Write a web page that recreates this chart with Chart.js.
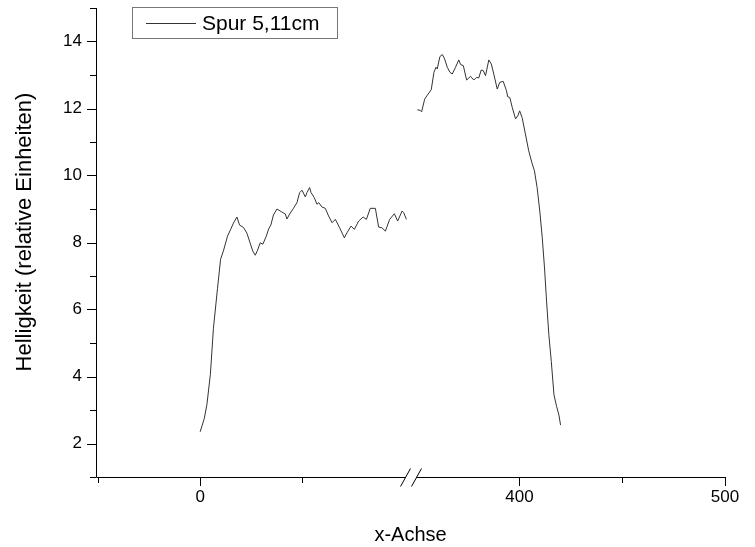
<!DOCTYPE html>
<html>
<head>
<meta charset="utf-8">
<script src="https://cdn.jsdelivr.net/npm/chart.js@4.4.1/dist/chart.umd.min.js"></script>
<style>
    body { margin: 0; background: #fff; }
</style>
</head>
<body>
<canvas id="helligkeitChart" width="755" height="547"></canvas>
<script>
// values, left of the axis break
var leftX = [0, 2, 3.3, 5, 6.5, 8.5, 10, 11.4, 13.4, 15, 16.3, 18, 19.3, 21.2, 22.9, 24.5, 25.8, 27, 28.1, 29.4,
    30.7, 32.4, 33.5, 34.6, 35.9, 37.6, 40, 41.7, 42.5, 43.8, 45.7, 47.4, 48.7, 49.9, 51.5, 52.3, 53.6, 54.3, 55.9,
    57.2, 58.1, 59.6, 61.3, 62.9, 64.6, 66.2, 68.3, 70.6, 71.9, 73.9, 75.5, 77.6, 79.8, 81.4, 83.3, 85.8, 87.4, 89,
    90.7, 92.8, 95.1, 96.7, 98.9, 99.7, 101];
var leftY = [2.35, 2.74, 3.16, 4.06, 5.44, 6.63, 7.5, 7.75, 8.19, 8.4, 8.58, 8.76, 8.52, 8.45, 8.28, 7.98, 7.74, 7.62, 7.77, 7.99,
    7.95, 8.19, 8.4, 8.52, 8.82, 9.0, 8.91, 8.85, 8.7, 8.85, 9.02, 9.19, 9.49, 9.56, 9.36, 9.49, 9.64, 9.49, 9.34,
    9.14, 9.19, 9.06, 9.02, 8.79, 8.59, 8.69, 8.44, 8.14, 8.29, 8.49, 8.39, 8.64, 8.76, 8.69, 9.02, 9.02, 8.46, 8.44,
    8.34, 8.69, 8.86, 8.64, 8.94, 8.89, 8.69];

// values right of the axis break
var rightX = [350.3, 351.6, 352.4, 353.9, 355.2, 357.1, 358.4, 359.4, 360, 361.3, 362.5, 363.6, 364.9, 366.2, 367.3,
    368.9, 370.5, 371.4, 372.7, 374.3, 376.2, 377.8, 379.1, 380.2, 381.4, 382.4, 383.5, 385.1, 386.3, 387.5, 389.2,
    390.4, 392.1, 393.7, 394.3, 395.3, 396.5, 398.1, 399.2, 400.1, 401.3, 402.9, 404.5, 406.2, 407.3, 408.6, 409.9,
    411.1, 412.2, 413.2, 414.3, 415.5, 416.8, 418.1, 419.2, 420];
var rightY = [11.96, 11.95, 11.9, 12.28, 12.4, 12.56, 13.08, 13.23, 13.18, 13.55, 13.61, 13.48, 13.23, 13.08, 13.03,
    13.23, 13.45, 13.31, 13.28, 12.85, 12.96, 12.85, 12.93, 12.91, 13.15, 13.13, 12.98, 13.45, 13.33, 13.03, 12.58,
    12.78, 12.81, 12.53, 12.35, 12.33, 12.03, 11.69, 11.78, 11.93, 11.73, 11.24, 10.74, 10.35, 10.14, 9.64, 8.94,
    8.14, 7.24, 6.25, 5.25, 4.45, 3.45, 3.1, 2.85, 2.55];

var yMajor = [2, 4, 6, 8, 10, 12, 14];
var yMinor = [1, 3, 5, 7, 9, 11, 13, 15];
var xMajorLeft = [0];
var xMinorLeft = [-50, 50];
var xMajorRight = [400, 500];
var xMinorRight = [450];

var seriesName = "Spur 5,11cm";
var xTitle = "x-Achse";
var yTitle = "Helligkeit (relative Einheiten)";

var fontFamily = "'Liberation Sans', Arial, sans-serif";

function toPoints(xs, ys) {
    var pts = [];
    for (var i = 0; i < xs.length; i++) {
        pts.push({ x: xs[i], y: ys[i] });
    }
    return pts;
}

function setTicks(major, minor) {
    return function (scale) {
        scale.ticks = major.concat(minor).sort(function (a, b) { return a - b; }).map(function (v) {
            return { value: v, major: major.indexOf(v) >= 0 };
        });
    };
}

// axes, tick marks, break, titles and legend in the Origin look
var originPlugin = {
    id: "originLook",
    afterDraw: function (chart) {
        var ctx = chart.ctx;
        var area = chart.chartArea;
        var sy = chart.scales.y, x1 = chart.scales.x1, x2 = chart.scales.x2;
        ctx.save();
        ctx.strokeStyle = "#000";
        ctx.lineWidth = 1;

        // axis lines
        ctx.beginPath();
        ctx.moveTo(area.left + 0.5, area.top);
        ctx.lineTo(area.left + 0.5, area.bottom + 0.5);
        ctx.lineTo(area.right, area.bottom + 0.5);
        ctx.stroke();

        // y ticks
        ctx.beginPath();
        yMajor.forEach(function (v) {
            var p = Math.round(sy.getPixelForValue(v)) + 0.5;
            ctx.moveTo(area.left - 9, p); ctx.lineTo(area.left, p);
        });
        yMinor.forEach(function (v) {
            var p = Math.round(sy.getPixelForValue(v)) + 0.5;
            ctx.moveTo(area.left - 6, p); ctx.lineTo(area.left, p);
        });
        // x ticks
        [[x1, xMajorLeft, xMinorLeft], [x2, xMajorRight, xMinorRight]].forEach(function (set) {
            set[1].forEach(function (v) {
                var p = Math.round(set[0].getPixelForValue(v)) + 0.5;
                ctx.moveTo(p, area.bottom); ctx.lineTo(p, area.bottom + 9);
            });
            set[2].forEach(function (v) {
                var p = Math.round(set[0].getPixelForValue(v)) + 0.5;
                ctx.moveTo(p, area.bottom); ctx.lineTo(p, area.bottom + 6);
            });
        });
        ctx.stroke();

        // axis break //
        var bx = x1.right, by = area.bottom + 0.5;
        ctx.fillStyle = "#fff";
        ctx.fillRect(bx - 5, by - 2, 11, 4);
        ctx.beginPath();
        ctx.moveTo(bx - 10, by + 9); ctx.lineTo(bx, by - 9);
        ctx.moveTo(bx + 1, by + 9); ctx.lineTo(bx + 11, by - 9);
        ctx.stroke();

        // axis titles
        ctx.fillStyle = "#000";
        ctx.font = "20px " + fontFamily;
        ctx.textAlign = "center";
        ctx.textBaseline = "middle";
        ctx.fillText(xTitle, (area.left + area.right) / 2, 535);

        ctx.save();
        ctx.translate(25, 232);
        ctx.rotate(-Math.PI / 2);
        ctx.font = "22px " + fontFamily;
        ctx.fillText(yTitle, 0, 0);
        ctx.restore();

        // legend
        ctx.strokeStyle = "#777";
        ctx.strokeRect(132.5, 7.5, 205, 31);
        ctx.strokeStyle = "#333";
        ctx.beginPath();
        ctx.moveTo(146, 23.5); ctx.lineTo(196, 23.5);
        ctx.stroke();
        ctx.font = "21px " + fontFamily;
        ctx.textAlign = "left";
        ctx.fillText(seriesName, 202, 24);
        ctx.restore();
    }
};

var lineStyle = {
    borderColor: "#333",
    borderWidth: 1,
    pointRadius: 0,
    tension: 0,
    fill: false
};

function xAxis(min, max, major, minor) {
    return {
        type: "linear",
        position: "bottom",
        stack: "xb",
        stackWeight: 1,
        min: min,
        max: max,
        afterBuildTicks: setTicks(major, minor),
        afterFit: function (scale) {
            scale.height = 70;
            scale.paddingLeft = 0;
            scale.paddingRight = 0;
        },
        grid: { display: false, drawTicks: false },
        border: { display: false },
        ticks: {
            padding: 10,
            maxRotation: 0,
            autoSkip: false,
            color: "#000",
            font: { size: 17, family: fontFamily },
            callback: function (v) { return major.indexOf(v) >= 0 ? String(v) : ""; }
        }
    };
}

var chart = new Chart(document.getElementById("helligkeitChart").getContext("2d"), {
    type: "line",
    data: {
        datasets: [
            Object.assign({ label: seriesName, data: toPoints(leftX, leftY), xAxisID: "x1", yAxisID: "y" }, lineStyle),
            Object.assign({ label: seriesName, data: toPoints(rightX, rightY), xAxisID: "x2", yAxisID: "y" }, lineStyle)
        ]
    },
    options: {
        responsive: false,
        animation: false,
        devicePixelRatio: 1,
        layout: { padding: { left: 0, right: 30, top: 8, bottom: 0 } },
        plugins: {
            legend: { display: false },
            tooltip: { enabled: false }
        },
        scales: {
            x1: xAxis(-51, 103, xMajorLeft, xMinorLeft),
            x2: xAxis(347, 500, xMajorRight, xMinorRight),
            y: {
                type: "linear",
                position: "left",
                min: 1,
                max: 15,
                afterBuildTicks: setTicks(yMajor, yMinor),
                afterFit: function (scale) {
                    scale.width = 96;
                    scale.paddingTop = 0;
                    scale.paddingBottom = 0;
                },
                grid: { display: false, drawTicks: false },
                border: { display: false },
                ticks: {
                    padding: 14,
                    autoSkip: false,
                    color: "#000",
                    font: { size: 17, family: fontFamily },
                    callback: function (v) { return yMajor.indexOf(v) >= 0 ? String(v) : ""; }
                }
            }
        }
    },
    plugins: [originPlugin]
});
</script>
</body>
</html>
